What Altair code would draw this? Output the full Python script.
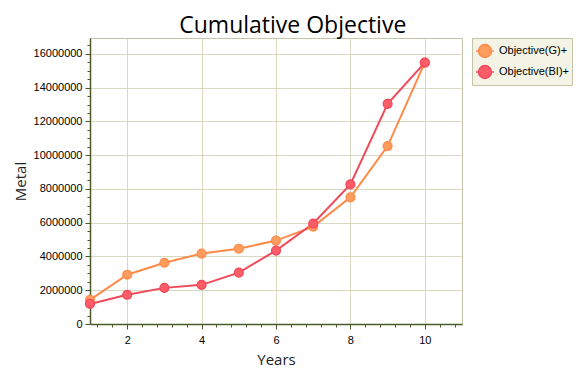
import altair as alt
import pandas as pd

years = [1, 2, 3, 4, 5, 6, 7, 8, 9, 10]
objective_g = [1430000, 2920000, 3630000, 4170000, 4460000, 4940000, 5770000, 7500000, 10540000, 15480000]
objective_bi = [1190000, 1730000, 2140000, 2320000, 3040000, 4350000, 5950000, 8270000, 13040000, 15480000]
series_names = ["Objective(G)+", "Objective(BI)+"]
line_colors = ["#ff8a48", "#f04a5a"]
fill_colors = ["#ff9d5e", "#ff5c6a"]

x_ticks = [round(1.2 + 0.4 * i, 1) for i in range(25)]
y_ticks = [500000 * i for i in range(34)]

rows = []
for name, vals in zip(series_names, [objective_g, objective_bi]):
    for yr, v in zip(years, vals):
        rows.append({"Years": yr, "Metal": v, "Series": name})
df = pd.DataFrame(rows)

LABEL_FONT = "Liberation Sans"
AXIS_COLOR = "#4b5a28"
GRID_COLOR = "#d9d9c3"
MAJOR_X = "abs(datum.value - round(datum.value / 2) * 2) < 0.01"
MAJOR_Y = "datum.value % 2000000 === 0"

x_enc = alt.X(
    "Years:Q",
    scale=alt.Scale(domain=[1, 11], nice=False, zero=False),
    axis=alt.Axis(
        title="Years",
        values=x_ticks,
        labelOverlap=False,
        labelExpr=MAJOR_X + " ? format(datum.value, 'd') : ''",
        tickSize={"condition": {"test": MAJOR_X, "value": 5}, "value": 3},
        gridOpacity={"condition": {"test": MAJOR_X, "value": 1}, "value": 0},
    ),
)
y_enc = alt.Y(
    "Metal:Q",
    scale=alt.Scale(domain=[0, 16940000], nice=False),
    axis=alt.Axis(
        title="Metal",
        values=y_ticks,
        format="d",
        labelOverlap=False,
        labelExpr=MAJOR_Y + " ? datum.label : ''",
        tickSize={"condition": {"test": MAJOR_Y, "value": 5}, "value": 3},
        gridOpacity={"condition": {"test": MAJOR_Y, "value": 1}, "value": 0},
    ),
)

legend_symbol = (
    "M-1,0 L-0.72,0 M0.72,0 L1,0 "
    "M-0.72,0 A0.72,0.72 0 1,1 0.72,0 A0.72,0.72 0 1,1 -0.72,0 Z"
)
legend = alt.Legend(
    title=None,
    symbolType=legend_symbol,
    symbolSize=320,
    symbolStrokeWidth=1.5,
    labelFont=LABEL_FONT,
    labelFontSize=11,
    labelColor="#000000",
    fillColor="#f3f3e6",
    strokeColor="#c4c4a6",
    padding=3,
    offset=10,
    rowPadding=1,
    labelOffset=4,
)

stroke_enc = alt.Stroke(
    "Series:N",
    scale=alt.Scale(domain=series_names, range=line_colors),
    legend=legend,
)
fill_enc = alt.Fill(
    "Series:N",
    scale=alt.Scale(domain=series_names, range=fill_colors),
    legend=legend,
)

lines = alt.Chart(df).mark_line(strokeWidth=2).encode(
    x=x_enc, y=y_enc, stroke=stroke_enc, order="Years:Q"
)
points = alt.Chart(df).mark_point(filled=False, size=80, strokeWidth=1.2, opacity=1).encode(
    x=x_enc, y=y_enc, stroke=stroke_enc, fill=fill_enc
)

chart = (
    alt.layer(lines, points)
    .properties(
        width=372,
        height=286,
        padding={"left": 5, "top": 6, "right": 5, "bottom": 5},
        title=alt.TitleParams(
            "Cumulative Objective",
            font="Open Sans",
            fontSize=23,
            fontWeight="normal",
            color="#000000",
            anchor="middle",
            frame="bounds",
            offset=0,
        ),
    )
    .configure_view(stroke="#c4c4a6", strokeWidth=1)
    .configure_axis(
        domainColor=AXIS_COLOR,
        domainWidth=1.5,
        tickColor=AXIS_COLOR,
        tickWidth=1,
        gridColor=GRID_COLOR,
        gridWidth=1,
        labelFont=LABEL_FONT,
        labelFontSize=11,
        labelColor="#000000",
        titleFont="Open Sans",
        titleFontSize=15,
        titleFontWeight="normal",
        titleColor="#222222",
    )
    .configure_axisX(labelPadding=5, titlePadding=7)
    .configure_axisY(labelPadding=3, titlePadding=5)
)

chart.save("out.html", embed_options={"renderer": "svg", "actions": False})
